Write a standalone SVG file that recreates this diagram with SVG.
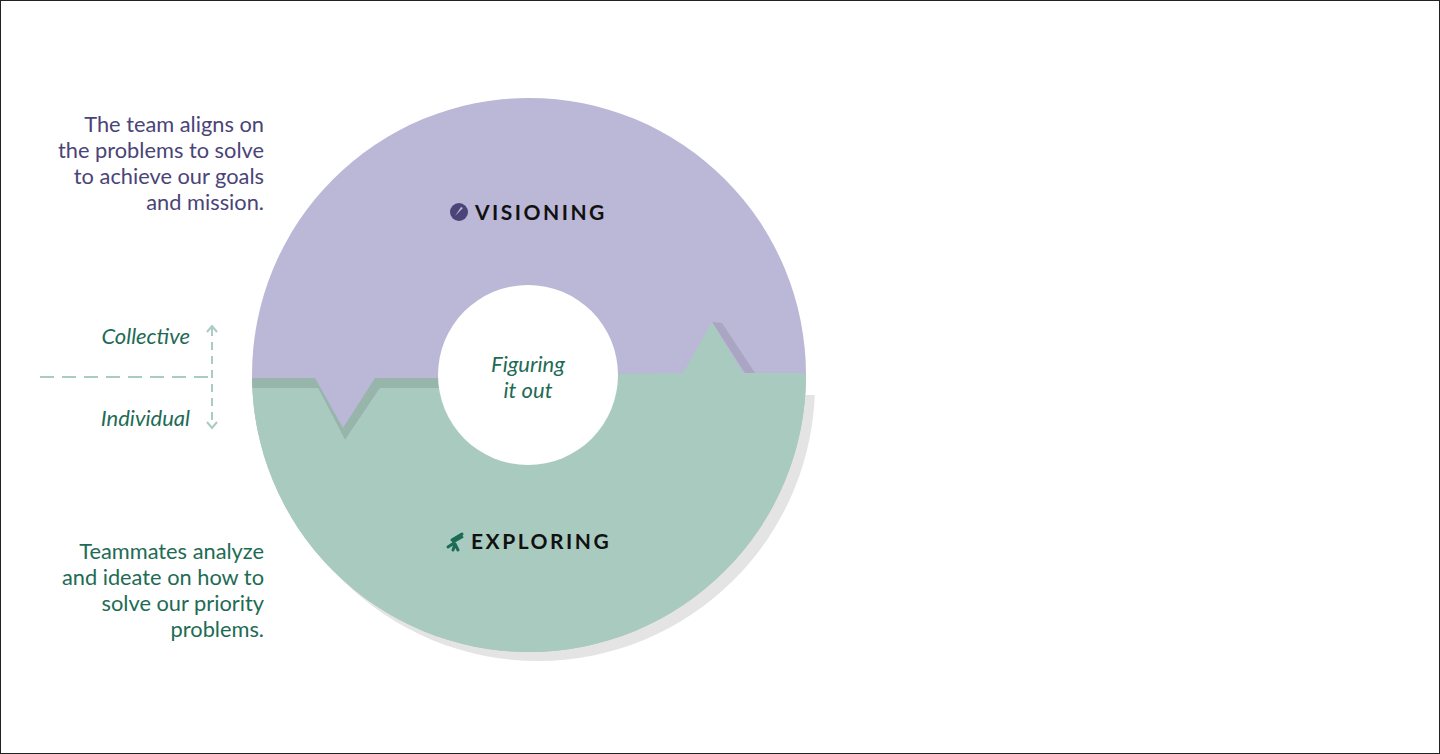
<svg xmlns="http://www.w3.org/2000/svg" width="1440" height="754" viewBox="0 0 1440 754">
<style>
.t{font-family:Lato,"Open Sans",sans-serif;font-size:21.8px}
.p{fill:#4a4478}.g{fill:#1e6b55}
.i{font-style:italic;fill:#1e6b55;font-size:22px}
.h{font-family:Lato,sans-serif;font-size:21px;font-weight:bold;letter-spacing:2.5px;fill:#111}
.d{stroke:#a9cbc4;stroke-width:2;fill:none;stroke-dasharray:14 8}
</style>
<defs>
<clipPath id="c"><circle cx="529" cy="375" r="277"/></clipPath>
<clipPath id="low"><rect x="0" y="395" width="1440" height="400"/></clipPath>
</defs>
<rect x="0.5" y="0.5" width="1439" height="753" fill="#fff" stroke="#222"/>
<g id="cycle">
<circle cx="538" cy="384" r="277" fill="#e4e4e4" clip-path="url(#low)"/>
<g clip-path="url(#c)">
<rect x="240" y="90" width="580" height="580" fill="#bbb7d7"/>
<polygon points="712,322 722,323 755,373 745,373" fill="#a9a5c2"/>
<polygon points="240,378 315,378 343,428 375,378 440,378 440,388 380,388 345,440 318,388 240,388" fill="#97b5aa"/>
<polygon points="240,388 318,388 345,440 380,388 440,388 440,374 620,374 683,373 712,322 743,373 820,373 820,670 240,670" fill="#a9cbbf"/>
</g>
<circle cx="528" cy="375" r="90" fill="#fff"/>
</g>
<g id="center"><text class="t i" x="528" y="372" text-anchor="middle">Figuring</text><text class="t i" x="528" y="398" text-anchor="middle">it out</text></g>
<g id="visioning">
<circle cx="459" cy="212" r="9" fill="#4a4478"/><path d="M455,216 L461,207 L463,208 Z" fill="#bbb7d7"/>
<text class="h" x="475" y="220">VISIONING</text></g>
<g id="exploring">
<path d="M452,540 L462,534 M455,544 L453,550 M455,544 L458,550 M448,547 L454,543" stroke="#1e6b55" stroke-width="3" fill="none" stroke-linecap="round"/>
<rect x="451" y="536" width="12" height="5" transform="rotate(-30 457 538)" fill="#1e6b55"/>
<text class="h" x="471" y="549">EXPLORING</text></g>
<g id="notes">
<text class="t p" text-anchor="end"><tspan x="264" y="132">The team aligns on</tspan><tspan x="264" y="158">the problems to solve</tspan><tspan x="264" y="184">to achieve our goals</tspan><tspan x="264" y="210">and mission.</tspan></text>
<text class="t g" text-anchor="end"><tspan x="264" y="559">Teammates analyze</tspan><tspan x="264" y="585">and ideate on how to</tspan><tspan x="264" y="611">solve our priority</tspan><tspan x="264" y="637">problems.</tspan></text>
<text class="t i" x="190" y="344" text-anchor="end">Collective</text>
<text class="t i" x="190" y="426" text-anchor="end">Individual</text>
</g>
<g id="connectors">
<line class="d" x1="40" y1="377" x2="212" y2="377"/>
<line x1="212" y1="328" x2="212" y2="426" stroke="#a9cbc4" stroke-width="2" stroke-dasharray="8 6"/>
<path d="M207,332 L212,326 L217,332 M207,422 L212,428 L217,422" stroke="#a9cbc4" stroke-width="2" fill="none"/>
</g>
</svg>
